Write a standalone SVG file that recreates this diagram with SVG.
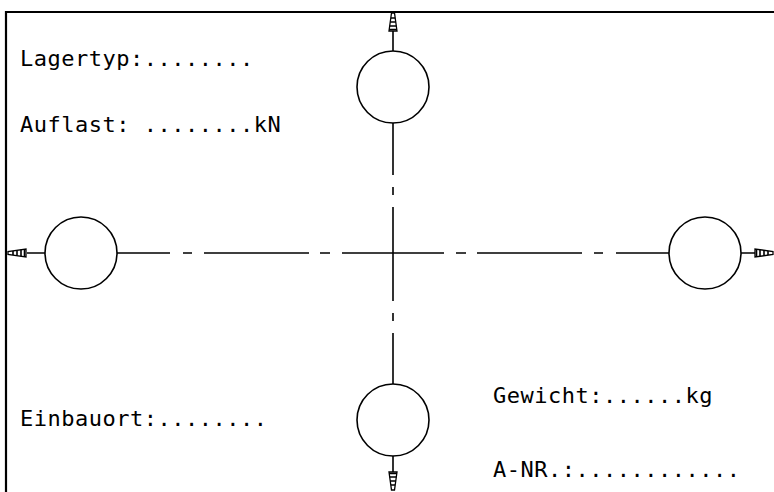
<svg xmlns="http://www.w3.org/2000/svg" width="774" height="492" viewBox="0 0 774 492">
<style>
.ln{stroke:#000;stroke-width:1.6;fill:none}
.fr{stroke:#000;stroke-width:2.2;fill:none}
.nd{stroke:#000;stroke-width:1.6;fill:#fff}
.tx{font-family:"DejaVu Sans Mono","Liberation Mono",monospace;font-size:22px;letter-spacing:0.5px;fill:#000}
</style>
<defs>
<g id="arr">
<path d="M-1.5,0 L1.5,0 L4,18 L-4,18 Z" fill="#fff" stroke="#000" stroke-width="1.3"/>
<path d="M-2,5 H2 M-2.8,9 H2.8 M-3.3,13 H3.3 M-3.8,16.5 H3.8" stroke="#000" stroke-width="1.6"/>
</g>
</defs>
<rect width="774" height="492" fill="#fff"/>
<g id="frame">
<path class="fr" d="M6,492 V12 H774"/>
</g>
<g id="connectors">
<path class="ln" d="M27,253 H45 M117,253 H170 M183,253 H192 M204,253 H309 M320,253 H330 M342,253 H444 M456,253 H466 M477,253 H582 M594,253 H603 M616,253 H669 M741,253 H760"/>
<path class="ln" d="M393,31 V51 M393,123 V175 M393,187 V195 M393,207 V301 M393,313 V321 M393,333 V384 M393,456 V474"/>
<use href="#arr" transform="translate(393,13)"/>
<use href="#arr" transform="translate(393,490) rotate(180)"/>
<use href="#arr" transform="translate(8,253) rotate(-90)"/>
<use href="#arr" transform="translate(773,253) rotate(90)"/>
</g>
<g id="node-top"><circle class="nd" cx="393" cy="87" r="36"/></g>
<g id="node-bottom"><circle class="nd" cx="393" cy="420" r="36"/></g>
<g id="node-left"><circle class="nd" cx="81" cy="253" r="36"/></g>
<g id="node-right"><circle class="nd" cx="705" cy="253" r="36"/></g>
<g id="labels">
<text class="tx" x="20" y="66">Lagertyp:........</text>
<text class="tx" x="20" y="132">Auflast: ........kN</text>
<text class="tx" x="20" y="426">Einbauort:........</text>
<text class="tx" x="493" y="403">Gewicht:......kg</text>
<text class="tx" x="493" y="477">A-NR.:............</text>
</g>
</svg>
